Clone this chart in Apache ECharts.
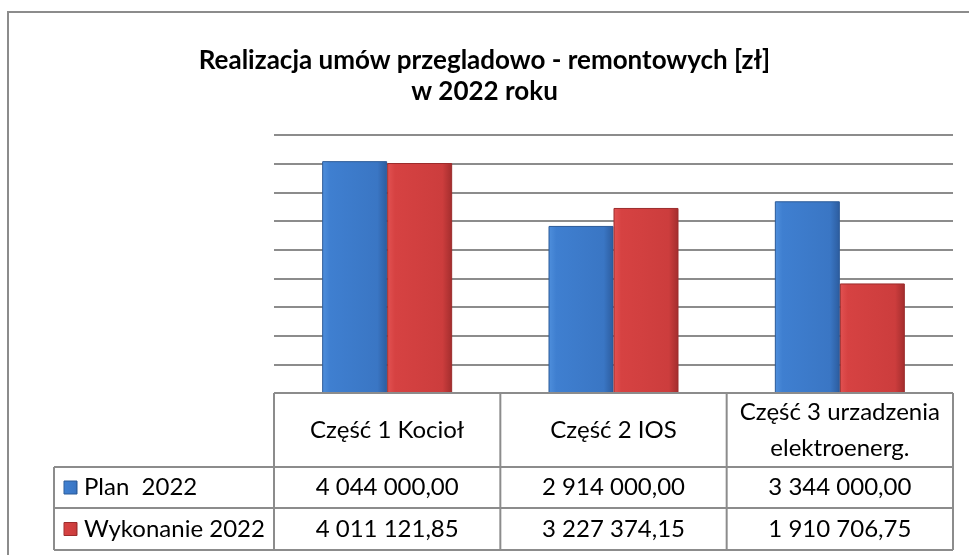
<!DOCTYPE html>
<html>
<head>
<meta charset="utf-8">
<title>Realizacja umów przegladowo - remontowych</title>
<script src="https://cdn.jsdelivr.net/npm/echarts@6/dist/echarts.min.js"></script>
<style>
    html, body { margin: 0; padding: 0; background: #fff; }
    #chart { width: 969px; height: 555px; }
</style>
</head>
<body>
<div id="chart"></div>
<script>
// dane
const categories = ['Część 1 Kocioł', 'Część 2 IOS', 'Część 3 urzadzenia\nelektroenerg.'];
const seriesNames = ['Plan  2022', 'Wykonanie 2022'];
const planValues = [4044000.00, 2914000.00, 3344000.00];
const wykonanieValues = [4011121.85, 3227374.15, 1910706.75];
const yMax = 4500000;
const yStep = 500000;

// uklad
const gridLeft = 274, gridRight = 953, gridTop = 135, gridBottom = 393;
const rowY = [393, 467, 508, 550];
const labelLeft = 54;
const lineColor = '#8c8c8c';
const font = '24px Lato';

function fmt(v) {
    const parts = v.toFixed(2).split('.');
    return parts[0].replace(/\B(?=(\d{3})+(?!\d))/g, ' ') + ',' + parts[1];
}

const blueFill = new echarts.graphic.LinearGradient(0, 0, 1, 0, [
    { offset: 0, color: '#4f8fdc' },
    { offset: 0.12, color: '#3f7fd0' },
    { offset: 0.85, color: '#3a76c4' },
    { offset: 1, color: '#2c5c9e' }
]);
const redFill = new echarts.graphic.LinearGradient(0, 0, 1, 0, [
    { offset: 0, color: '#e25252' },
    { offset: 0.12, color: '#d64242' },
    { offset: 0.85, color: '#cc3d3d' },
    { offset: 1, color: '#a22d2d' }
]);
const fills = [blueFill, redFill];
const borders = ['#2b5a98', '#9c2c2c'];

// tabela pod wykresem
const colW = (gridRight - gridLeft) / categories.length;
const graphics = [];
function line(x1, y1, x2, y2) {
    graphics.push({
        type: 'line',
        shape: { x1: x1, y1: y1, x2: x2, y2: y2 },
        style: { stroke: lineColor, lineWidth: 2 },
        z: 10
    });
}
function text(t, x, y, align) {
    graphics.push({
        type: 'text',
        x: x, y: y,
        style: {
            text: t, font: font, fill: '#000',
            textAlign: align || 'center', textVerticalAlign: 'middle',
            lineHeight: 36
        },
        z: 10
    });
}

// ramka
graphics.push({
    type: 'rect',
    shape: { x: 8, y: 12, width: 1000, height: 600 },
    style: { fill: 'none', stroke: lineColor, lineWidth: 2 },
    z: 0
});

line(gridLeft, rowY[0], gridRight, rowY[0]);
for (let r = 1; r < rowY.length; r++) line(labelLeft, rowY[r], gridRight, rowY[r]);
line(labelLeft, rowY[1], labelLeft, rowY[3]);
for (let c = 0; c <= categories.length; c++) {
    const x = gridLeft + c * colW;
    line(x, rowY[0], x, rowY[3]);
}
categories.forEach((cat, i) => {
    const cx = gridLeft + (i + 0.5) * colW;
    text(cat, cx, (rowY[0] + rowY[1]) / 2);
    text(fmt(planValues[i]), cx, (rowY[1] + rowY[2]) / 2);
    text(fmt(wykonanieValues[i]), cx, (rowY[2] + rowY[3]) / 2);
});
seriesNames.forEach((name, i) => {
    const cy = (rowY[i + 1] + rowY[i + 2]) / 2;
    graphics.push({
        type: 'rect',
        shape: { x: 64, y: cy - 6.5, width: 13, height: 13 },
        style: { fill: fills[i], stroke: borders[i], lineWidth: 1 },
        z: 10
    });
    text(name, 84, cy, 'left');
});

const chart = echarts.init(document.getElementById('chart'));
chart.setOption({
    animation: false,
    title: {
        text: 'Realizacja umów przegladowo - remontowych [zł]\nw 2022 roku',
        left: 'center',
        top: 40,
        textStyle: {
            fontFamily: 'Lato',
            fontWeight: 'bold',
            fontSize: 26,
            lineHeight: 31,
            color: '#000'
        }
    },
    grid: {
        left: gridLeft,
        right: 969 - gridRight,
        top: gridTop,
        bottom: 555 - gridBottom
    },
    xAxis: {
        type: 'category',
        data: categories,
        axisLine: { show: false },
        axisTick: { show: false },
        axisLabel: { show: false }
    },
    yAxis: {
        type: 'value',
        min: 0,
        max: yMax,
        interval: yStep,
        axisLabel: { show: false },
        axisLine: { show: false },
        axisTick: { show: false },
        splitLine: { lineStyle: { color: lineColor, width: 2 } }
    },
    series: [
        {
            type: 'bar',
            name: seriesNames[0],
            data: planValues,
            barWidth: 65,
            barGap: '0%',
            itemStyle: { color: blueFill, borderColor: borders[0], borderWidth: 1 }
        },
        {
            type: 'bar',
            name: seriesNames[1],
            data: wykonanieValues,
            barWidth: 65,
            barGap: '0%',
            itemStyle: { color: redFill, borderColor: borders[1], borderWidth: 1 }
        }
    ],
    graphic: graphics
});
</script>
</body>
</html>
